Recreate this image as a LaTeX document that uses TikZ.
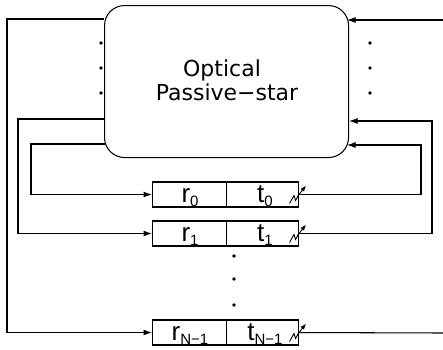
\documentclass[tikz,border=0pt]{standalone}
\usepackage{fontspec}
\setmainfont{Liberation Sans}
\newfontfamily\starfont{DejaVu Sans}
\usetikzlibrary{arrows.meta}
\begin{document}
\begin{tikzpicture}[x=1pt,y=-1pt,line width=1.05pt,
  arr/.style={-{Latex[length=8.5pt,width=6pt]}},
  tiparr/.style={-{Latex[length=6pt,width=4.5pt]}},
  cell/.style={draw,minimum height=25pt,inner sep=0pt},
  dotm/.style={circle,fill,inner sep=0pt,minimum size=3.8pt},
  bigtxt/.style={font=\starfont\fontsize{22}{22}\selectfont,anchor=base,inner sep=0pt},
  lab/.style={font=\fontsize{26}{26}\selectfont,anchor=base,inner sep=0pt}]
\useasboundingbox (0,0) rectangle (443,349);
% star coupler
\node[draw,rounded corners=20pt,minimum width=244pt,minimum height=152pt,anchor=north west,inner sep=0pt] (star) at (104,5) {};
\node[bigtxt] (txtA) at (222,76) {Optical};
\node[bigtxt] (txtB) at (227,100) {Passive−star};
% rows
\foreach \n/\yc/\s in {0/194.5/0,1/233.5/1,N/332.5/{N−1}}{
  \node[cell,minimum width=74pt,anchor=west] (r\n) at (152,\yc) {};
  \node[cell,minimum width=72pt,anchor=west] (t\n) at (226,\yc) {};
  \node[lab] (rl\n) at (190,\yc+7.5) {r\raisebox{-4.5pt}{\fontsize{15}{15}\selectfont\s}};
  \node[lab] (tl\n) at (265,\yc+7.5) {t\raisebox{-4.5pt}{\fontsize{15}{15}\selectfont\s}};
  \draw[line width=0.9pt] (289.5,\yc+9) -- (294,\yc+1) -- (295.5,\yc+6) -- (299,\yc);
  \draw[tiparr,line width=0.9pt] (297.5,\yc+2) -- (306,\yc-9);
}
% dots
\foreach \i/\x/\y in {1/101/43,2/101/68,3/101/93,4/370/43,5/370/68,6/370/93,7/234/256,8/234/279,9/234/305}{
  \node[dotm] (d\i) at (\x,\y) {};
}
% left connectors
\coordinate (pL1) at (7,19);
\coordinate (pL2) at (18,119);
\coordinate (pL3) at (31,144);
\coordinate (sL3) at (105.3,144);
\draw[arr] (star.west |- pL1) -- (pL1) |- (rN.west);
\draw[arr] (star.west |- pL2) -- (pL2) |- (r1.west);
\draw[arr] (sL3) -- (pL3) |- (r0.west);
% right connectors
\coordinate (pR1) at (443,20);
\coordinate (sR1) at (347,20);
\coordinate (pR2) at (432,121);
\coordinate (pR3) at (421,145);
\coordinate (sR3) at (347,145);
\coordinate (pR4) at (443,333);
\draw[arr] (pR1) -- (sR1);
\draw[arr] (t1.east) -| (pR2) -- (star.east |- pR2);
\draw[arr] (t0.east) -| (pR3) -- (sR3);
\draw (tN.east) -- (pR4);
\end{tikzpicture}
\end{document}
